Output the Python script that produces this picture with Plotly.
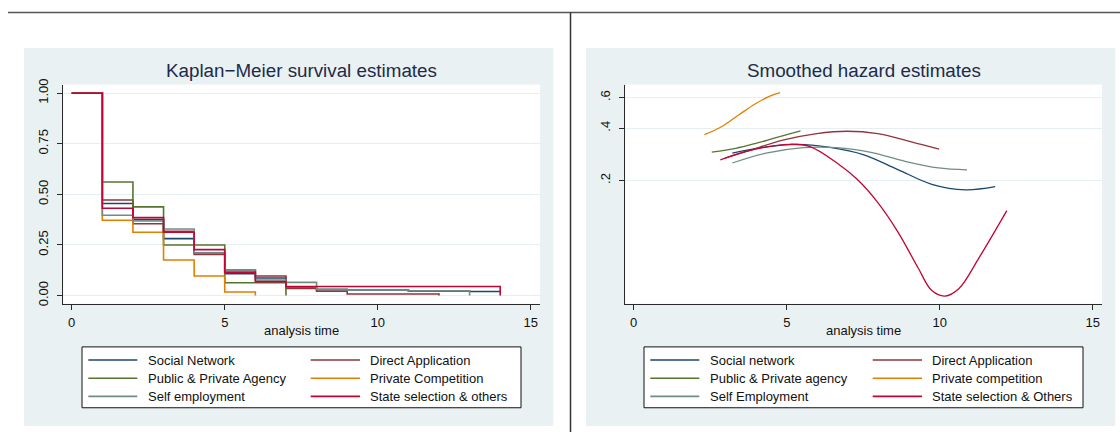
import plotly.graph_objects as go

# ---------------------------------------------------------------------------
# Series names and colours (Stata s2color order)
# ---------------------------------------------------------------------------
km_names = ["Social Network", "Direct Application", "Public & Private Agency",
            "Private Competition", "Self employment", "State selection & others"]
hz_names = ["Social network", "Direct Application", "Public & Private agency",
            "Private competition", "Self Employment", "State selection & Others"]
colors = ["#1a476f", "#90353b", "#55752f", "#e37e00", "#6e8e84", "#c10534"]

# ---------------------------------------------------------------------------
# Kaplan-Meier survival estimates (step functions, value from each time on)
# ---------------------------------------------------------------------------
km_t_social = [0, 1, 2, 3, 4, 5, 6, 7, 8, 9, 10, 11, 12, 13, 14]
km_s_social = [1.0, 0.455, 0.375, 0.281, 0.210, 0.108, 0.087, 0.037, 0.029,
               0.027, 0.027, 0.022, 0.022, 0.020, 0.020]

km_t_direct = [0, 1, 2, 3, 4, 5, 6, 7, 8, 9, 10, 11, 12]
km_s_direct = [1.0, 0.472, 0.355, 0.318, 0.203, 0.127, 0.097, 0.035, 0.021,
               0.008, 0.008, 0.008, 0.0]

km_t_agency = [0, 1, 2, 3, 4, 5, 6, 7]
km_s_agency = [1.0, 0.561, 0.438, 0.250, 0.250, 0.063, 0.063, 0.0]

km_t_compet = [0, 1, 2, 3, 4, 5, 6]
km_s_compet = [1.0, 0.372, 0.313, 0.176, 0.097, 0.018, 0.0]

km_t_selfemp = [0, 1, 2, 3, 4, 5, 6, 7, 8, 9, 10, 11, 12, 13]
km_s_selfemp = [1.0, 0.397, 0.368, 0.329, 0.210, 0.127, 0.077, 0.065, 0.032,
                0.027, 0.027, 0.023, 0.023, 0.0]

km_t_state = [0, 1, 2, 3, 4, 5, 6, 7, 8, 9, 10, 11, 12, 13, 14]
km_s_state = [1.0, 0.431, 0.385, 0.313, 0.227, 0.116, 0.069, 0.045, 0.045,
              0.045, 0.045, 0.045, 0.045, 0.045, 0.0]

km_times = [km_t_social, km_t_direct, km_t_agency, km_t_compet, km_t_selfemp, km_t_state]
km_surv = [km_s_social, km_s_direct, km_s_agency, km_s_compet, km_s_selfemp, km_s_state]

# ---------------------------------------------------------------------------
# Smoothed hazard estimates
# ---------------------------------------------------------------------------
hz_t_social = [3.22, 4.21, 5.31, 6.42, 7.52, 8.63, 9.74, 10.84, 11.81]
hz_h_social = [0.287, 0.310, 0.323, 0.310, 0.281, 0.231, 0.190, 0.1765, 0.184]

hz_t_direct = [2.99, 3.77, 4.87, 5.98, 6.97, 7.97, 9.07, 9.98]
hz_h_direct = [0.269, 0.297, 0.341, 0.372, 0.384, 0.372, 0.334, 0.303]

hz_t_agency = [2.55, 3.33, 3.99, 4.65, 5.45]
hz_h_agency = [0.291, 0.306, 0.327, 0.353, 0.386]

hz_t_compet = [2.31, 2.88, 3.44, 3.99, 4.43, 4.78]
hz_h_compet = [0.367, 0.409, 0.478, 0.555, 0.610, 0.640]

hz_t_selfemp = [3.22, 4.32, 5.54, 6.64, 7.75, 8.85, 9.95, 10.89]
hz_h_selfemp = [0.252, 0.287, 0.309, 0.309, 0.290, 0.258, 0.236, 0.230]

hz_t_state = [2.83, 3.77, 5.09, 5.76, 6.64, 7.30, 7.97, 8.63, 9.29, 9.74,
              10.17, 10.62, 11.28, 12.19]
hz_h_state = [0.263, 0.297, 0.323, 0.313, 0.252, 0.203, 0.1496, 0.1012,
              0.0628, 0.0464, 0.0431, 0.0475, 0.0716, 0.134]

hz_times = [hz_t_social, hz_t_direct, hz_t_agency, hz_t_compet, hz_t_selfemp, hz_t_state]
hz_vals = [hz_h_social, hz_h_direct, hz_h_agency, hz_h_compet, hz_h_selfemp, hz_h_state]

# Axis ticks
x_ticks = [0, 5, 10, 15]
km_y_ticks = [0, 0.25, 0.5, 0.75, 1.0]
km_y_labels = ["0.00", "0.25", "0.50", "0.75", "1.00"]
hz_y_ticks = [0.2, 0.4, 0.6]
hz_y_labels = [".2", ".4", ".6"]

# ---------------------------------------------------------------------------
# Layout geometry (pixels)
# ---------------------------------------------------------------------------
W, H = 1120, 434
SHIFT = 562            # horizontal offset of the second panel
PANEL = (24, 42.7, 553.3, 428)
PLOT = (63.3, 80, 540, 303.3)
FONT = "Liberation Sans, Arial, Helvetica, sans-serif"
PANEL_BG = "#eaf1f3"
GRID = "#e6eff1"
AXIS = "#2a2a2a"
TITLE_COLOR = "#1c2b4a"


def px(x):
    return x / W


def py(y):
    return 1 - y / H


fig = go.Figure()

for name, c, t, s in zip(km_names, colors, km_times, km_surv):
    fig.add_trace(go.Scatter(x=t, y=s, mode="lines", name=name,
                             line=dict(color=c, width=1.6, shape="hv"),
                             xaxis="x", yaxis="y", showlegend=False))

for name, c, t, h in zip(hz_names, colors, hz_times, hz_vals):
    fig.add_trace(go.Scatter(x=t, y=h, mode="lines", name=name,
                             line=dict(color=c, width=1.3, shape="spline", smoothing=1.0),
                             xaxis="x2", yaxis="y2", showlegend=False))

shapes = []
annotations = []

# Outer frame lines of the combined graph
shapes.append(dict(type="line", xref="paper", yref="paper",
                   x0=px(8), x1=px(1120), y0=py(6.5), y1=py(6.5),
                   line=dict(color="#555555", width=1.5), layer="above"))
shapes.append(dict(type="line", xref="paper", yref="paper",
                   x0=px(570.5), x1=px(570.5), y0=py(6.5), y1=py(434),
                   line=dict(color="#333333", width=1.5), layer="above"))

titles = ["Kaplan\u2212Meier survival estimates", "Smoothed hazard estimates"]
legend_names = [km_names, hz_names]

for k in range(2):
    dx = SHIFT * k
    # graph region and plot region backgrounds
    shapes.append(dict(type="rect", xref="paper", yref="paper",
                       x0=px(PANEL[0] + dx), x1=px(PANEL[2] + dx),
                       y0=py(PANEL[3]), y1=py(PANEL[1]),
                       fillcolor=PANEL_BG, line=dict(width=0), layer="below"))
    shapes.append(dict(type="rect", xref="paper", yref="paper",
                       x0=px(PLOT[0] + dx), x1=px(PLOT[2] + dx),
                       y0=py(PLOT[3]), y1=py(PLOT[1]),
                       fillcolor="white", line=dict(width=0), layer="below"))
    cx = (PLOT[0] + PLOT[2]) / 2 + dx
    annotations.append(dict(text=titles[k], xref="paper", yref="paper",
                            x=px(cx), y=py(66), xanchor="center", yanchor="middle",
                            showarrow=False, font=dict(family=FONT, size=18.8, color=TITLE_COLOR)))
    annotations.append(dict(text="analysis time", xref="paper", yref="paper",
                            x=px(cx), y=py(331), xanchor="center", yanchor="middle",
                            showarrow=False, font=dict(family=FONT, size=13, color="#111111")))
    # legend box
    shapes.append(dict(type="rect", xref="paper", yref="paper",
                       x0=px(82 + dx), x1=px(521 + dx), y0=py(409.3), y1=py(347.3),
                       fillcolor="white", line=dict(color="#111111", width=1), layer="above"))
    rows = [360.7, 379.2, 397.7]
    cols = [(88.3, 137.3, 146), (310.7, 360, 368.3)]
    for i, name in enumerate(legend_names[k]):
        r, col = divmod(i, 2)
        x0, x1, xt = cols[col]
        shapes.append(dict(type="line", xref="paper", yref="paper",
                           x0=px(x0 + dx), x1=px(x1 + dx), y0=py(rows[r]), y1=py(rows[r]),
                           line=dict(color=colors[i], width=1.6), layer="above"))
        annotations.append(dict(text=name, xref="paper", yref="paper",
                                x=px(xt + dx), y=py(rows[r]), xanchor="left", yanchor="middle",
                                showarrow=False,
                                font=dict(family=FONT, size=13, color="#111111")))

axis_common = dict(showline=True, linecolor=AXIS, linewidth=1, ticks="outside",
                   ticklen=5, tickcolor=AXIS, tickwidth=1, zeroline=False,
                   tickfont=dict(family=FONT, size=13, color="#111111"))

fig.update_layout(
    width=W, height=H, autosize=False,
    margin=dict(l=0, r=0, t=0, b=0),
    paper_bgcolor="white", plot_bgcolor="rgba(0,0,0,0)",
    showlegend=False,
    shapes=shapes, annotations=annotations,
    xaxis=dict(domain=[px(PLOT[0]), px(PLOT[2])], range=[-0.275, 15.30],
               tickvals=x_ticks, showgrid=False, anchor="y", ticklabelstandoff=2,
               **axis_common),
    yaxis=dict(domain=[py(PLOT[3]), py(PLOT[1])], range=[-0.0402, 1.0422],
               tickvals=km_y_ticks, ticktext=km_y_labels, tickangle=-90,
               showgrid=True, gridcolor=GRID, gridwidth=1, anchor="x",
               ticklabelstandoff=4, **axis_common),
    xaxis2=dict(domain=[px(PLOT[0] + SHIFT), px(PLOT[2] + SHIFT)], range=[-0.275, 15.30],
                tickvals=x_ticks, showgrid=False, anchor="y2", ticklabelstandoff=2,
                **axis_common),
    yaxis2=dict(domain=[py(PLOT[3]), py(PLOT[1])], type="log",
                range=[-1.4089, -0.1466],
                tickvals=hz_y_ticks, ticktext=hz_y_labels, tickangle=-90,
                showgrid=True, gridcolor=GRID, gridwidth=1, anchor="x2",
                ticklabelstandoff=4, **axis_common),
)

fig.write_html("out.html")
